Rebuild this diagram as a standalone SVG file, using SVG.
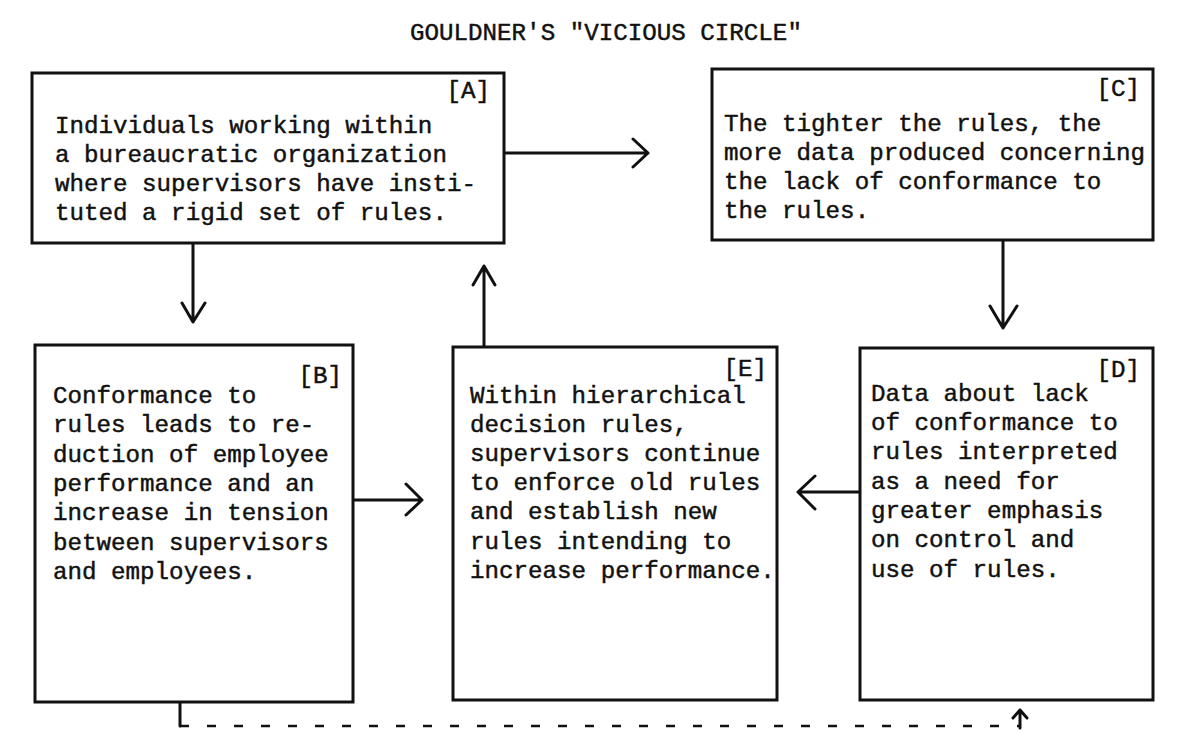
<svg xmlns="http://www.w3.org/2000/svg" width="1200" height="748" viewBox="0 0 1200 748">
<style>
.t{font-family:"Liberation Mono","DejaVu Sans Mono",monospace;font-size:24.2px;fill:#111;stroke:#111;stroke-width:0.45px}
.box{fill:#fff;stroke:#111;stroke-width:3}
.c{fill:none;stroke:#111;stroke-width:3;stroke-linecap:round;stroke-linejoin:round}
.d{fill:none;stroke:#111;stroke-width:2.5;stroke-dasharray:9 18}
</style>
<rect width="1200" height="748" fill="#fff"/>
<text class="t" x="410" y="40">GOULDNER'S "VICIOUS CIRCLE"</text>

<g id="connectors">
<path class="c" d="M505,153 H648 M633,139 L648,153 L633,167"/>
<path class="c" d="M193,243 V322 M182,303 L193,322 L205,303"/>
<path class="c" d="M484,347 V266 M473,285 L484,266 L495,285"/>
<path class="c" d="M1003,240 V328 M990,306 L1003,328 L1017,306"/>
<path class="c" d="M353,500 H422 M406,484 L422,500 L406,515"/>
<path class="c" d="M860,492 H798 M815,476 L798,492 L815,509"/>
<path class="c" d="M180,702 V726"/>
<path class="d" d="M180,726 H1020"/>
<path class="c" d="M1020,728 V710 M1013,718 L1020,710 L1027,718"/>
</g>

<g id="nodeA">
<rect class="box" x="32" y="73" width="472" height="170"/>
<text class="t" x="490" y="98" text-anchor="end">[A]</text>
<text class="t" x="55" y="133">Individuals working within</text>
<text class="t" x="55" y="162">a bureaucratic organization</text>
<text class="t" x="55" y="191">where supervisors have insti-</text>
<text class="t" x="55" y="220">tuted a rigid set of rules.</text>
</g>

<g id="nodeC">
<rect class="box" x="712" y="69" width="441" height="171"/>
<text class="t" x="1140" y="96" text-anchor="end">[C]</text>
<text class="t" x="724" y="131">The tighter the rules, the</text>
<text class="t" x="724" y="160">more data produced concerning</text>
<text class="t" x="724" y="189">the lack of conformance to</text>
<text class="t" x="724" y="218">the rules.</text>
</g>

<g id="nodeB">
<rect class="box" x="35" y="345" width="318" height="357"/>
<text class="t" x="342" y="383" text-anchor="end">[B]</text>
<text class="t" x="53" y="403">Conformance to</text>
<text class="t" x="53" y="432">rules leads to re-</text>
<text class="t" x="53" y="462">duction of employee</text>
<text class="t" x="53" y="491">performance and an</text>
<text class="t" x="53" y="520">increase in tension</text>
<text class="t" x="53" y="550">between supervisors</text>
<text class="t" x="53" y="579">and employees.</text>
</g>

<g id="nodeE">
<rect class="box" x="453" y="347" width="324" height="353"/>
<text class="t" x="767" y="376" text-anchor="end">[E]</text>
<text class="t" x="470" y="403">Within hierarchical</text>
<text class="t" x="470" y="432">decision rules,</text>
<text class="t" x="470" y="461">supervisors continue</text>
<text class="t" x="470" y="490">to enforce old rules</text>
<text class="t" x="470" y="519">and establish new</text>
<text class="t" x="470" y="549">rules intending to</text>
<text class="t" x="470" y="578">increase performance.</text>
</g>

<g id="nodeD">
<rect class="box" x="860" y="348" width="293" height="352"/>
<text class="t" x="1140" y="377" text-anchor="end">[D]</text>
<text class="t" x="871" y="401">Data about lack</text>
<text class="t" x="871" y="430">of conformance to</text>
<text class="t" x="871" y="459">rules interpreted</text>
<text class="t" x="871" y="489">as a need for</text>
<text class="t" x="871" y="518">greater emphasis</text>
<text class="t" x="871" y="547">on control and</text>
<text class="t" x="871" y="577">use of rules.</text>
</g>
</svg>
